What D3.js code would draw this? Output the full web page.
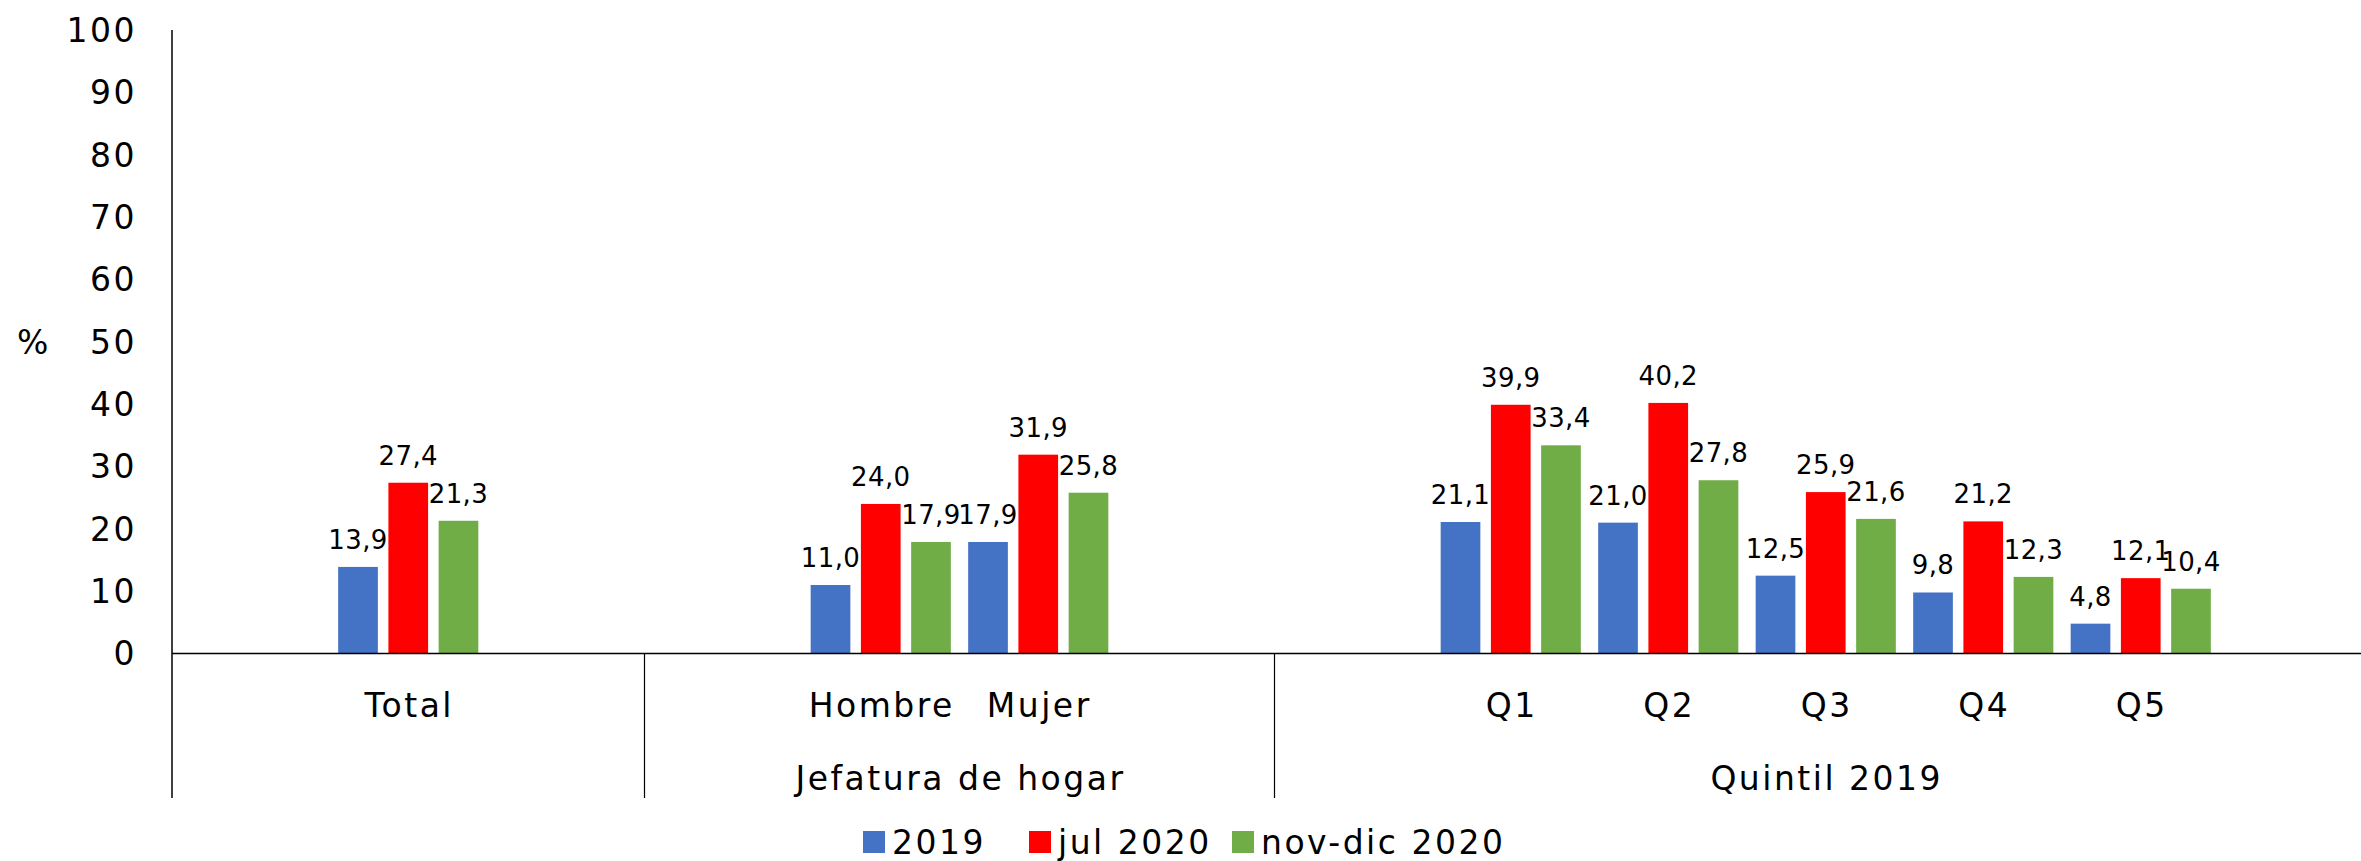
<!DOCTYPE html>
<html>
<head>
<meta charset="utf-8">
<script src="https://cdn.jsdelivr.net/npm/d3@7"></script>
<style>
  body { margin: 0; background: #fff; }
  text { font-family: Verdana, "DejaVu Sans", sans-serif; fill: #000; }
  .big { font-size: 33px; letter-spacing: 2.5px; }
  .label { font-size: 26px; letter-spacing: 0.4px; }
</style>
</head>
<body>
<div id="wrapper"></div>
<script>
// slots along the x axis; empty strings are spacer slots
const slots = ["", "Total", "", "", "Hombre", "Mujer", "", "", "Q1", "Q2", "Q3", "Q4", "Q5", ""]
const categories = ["Total", "Hombre", "Mujer", "Q1", "Q2", "Q3", "Q4", "Q5"]
const seriesNames = ["2019", "jul 2020", "nov-dic 2020"]
const values2019 = [13.9, 11.0, 17.9, 21.1, 21.0, 12.5, 9.8, 4.8]
const valuesJul2020 = [27.4, 24.0, 31.9, 39.9, 40.2, 25.9, 21.2, 12.1]
const valuesNovDic2020 = [21.3, 17.9, 25.8, 33.4, 27.8, 21.6, 12.3, 10.4]
const yTicks = [0, 10, 20, 30, 40, 50, 60, 70, 80, 90, 100]
const groups = [
    {label: "Jefatura de hogar", from: 4, to: 5},
    {label: "Quintil 2019", from: 8, to: 12}
]
const separators = [3, 7]

const colors = ["#4472C4", "#FF0000", "#70AD47"]

const width = 2361
const height = 861
const zeroY = 653.6
const topY = 30
const axisLeft = 172
const axisRight = 2377
const bottomY = 798

const svg = d3.select("#wrapper").append("svg")
    .attr("width", width)
    .attr("height", height)

const x = d3.scaleBand()
    .domain(d3.range(slots.length))
    .range([axisLeft, axisRight])

const y = d3.scaleLinear()
    .domain([0, 100])
    .range([zeroY, topY])

const inner = d3.scaleBand()
    .domain(d3.range(seriesNames.length))
    .range([-x.bandwidth() * 0.445, x.bandwidth() * 0.445])
    .paddingInner(0.21)

const allSeries = [values2019, valuesJul2020, valuesNovDic2020]
const bars = []
categories.forEach((c, i) => {
    const slot = slots.indexOf(c)
    allSeries.forEach((vals, s) => {
        bars.push({slot, s, value: vals[i]})
    })
})

const centerOf = slot => x(slot) + x.bandwidth() / 2

// y tick labels
svg.append("g")
    .selectAll("text")
    .data(yTicks)
    .join("text")
    .attr("class", "big")
    .attr("x", 137)
    .attr("y", d => y(d))
    .attr("dy", "0.36em")
    .attr("text-anchor", "end")
    .text(d => d)

svg.append("text")
    .attr("class", "big")
    .attr("x", 34)
    .attr("y", y(50))
    .attr("dy", "0.36em")
    .attr("text-anchor", "middle")
    .text("%")

// bars
svg.append("g")
    .selectAll("rect")
    .data(bars)
    .join("rect")
    .attr("x", d => centerOf(d.slot) + inner(d.s))
    .attr("width", inner.bandwidth())
    .attr("y", d => y(d.value))
    .attr("height", d => y(0) - y(d.value))
    .attr("fill", d => colors[d.s])

// data labels
svg.append("g")
    .selectAll("text")
    .data(bars)
    .join("text")
    .attr("class", "label")
    .attr("x", d => centerOf(d.slot) + inner(d.s) + inner.bandwidth() / 2)
    .attr("y", d => y(d.value) - 18)
    .attr("text-anchor", "middle")
    .text(d => d3.format(".1f")(d.value).replace(".", ","))

// axes lines
svg.append("line")
    .attr("x1", axisLeft).attr("x2", width)
    .attr("y1", y(0)).attr("y2", y(0))
    .attr("stroke", "#000").attr("stroke-width", 1.5)

svg.append("line")
    .attr("x1", axisLeft).attr("x2", axisLeft)
    .attr("y1", topY).attr("y2", bottomY)
    .attr("stroke", "#000").attr("stroke-width", 1.5)

svg.append("g")
    .selectAll("line")
    .data(separators)
    .join("line")
    .attr("x1", d => x(d)).attr("x2", d => x(d))
    .attr("y1", y(0)).attr("y2", bottomY)
    .attr("stroke", "#000").attr("stroke-width", 1.2)

// category labels
svg.append("g")
    .selectAll("text")
    .data(categories)
    .join("text")
    .attr("class", "big")
    .attr("x", d => centerOf(slots.indexOf(d)) + 1)
    .attr("y", 717)
    .attr("text-anchor", "middle")
    .text(d => d)

svg.append("g")
    .selectAll("text")
    .data(groups)
    .join("text")
    .attr("class", "big")
    .attr("x", d => (centerOf(d.from) + centerOf(d.to)) / 2 + 1)
    .attr("y", 790)
    .attr("text-anchor", "middle")
    .text(d => d.label)

// legend
const legendX = [863, 1029, 1232]
const legend = svg.append("g")
    .selectAll("g")
    .data(seriesNames)
    .join("g")
    .attr("transform", (d, i) => `translate(${legendX[i]}, 842)`)

legend.append("rect")
    .attr("x", 0).attr("y", -11)
    .attr("width", 22).attr("height", 22)
    .attr("fill", (d, i) => colors[i])

legend.append("text")
    .attr("class", "big")
    .attr("x", 29)
    .attr("dy", "0.36em")
    .text(d => d)
</script>
</body>
</html>
